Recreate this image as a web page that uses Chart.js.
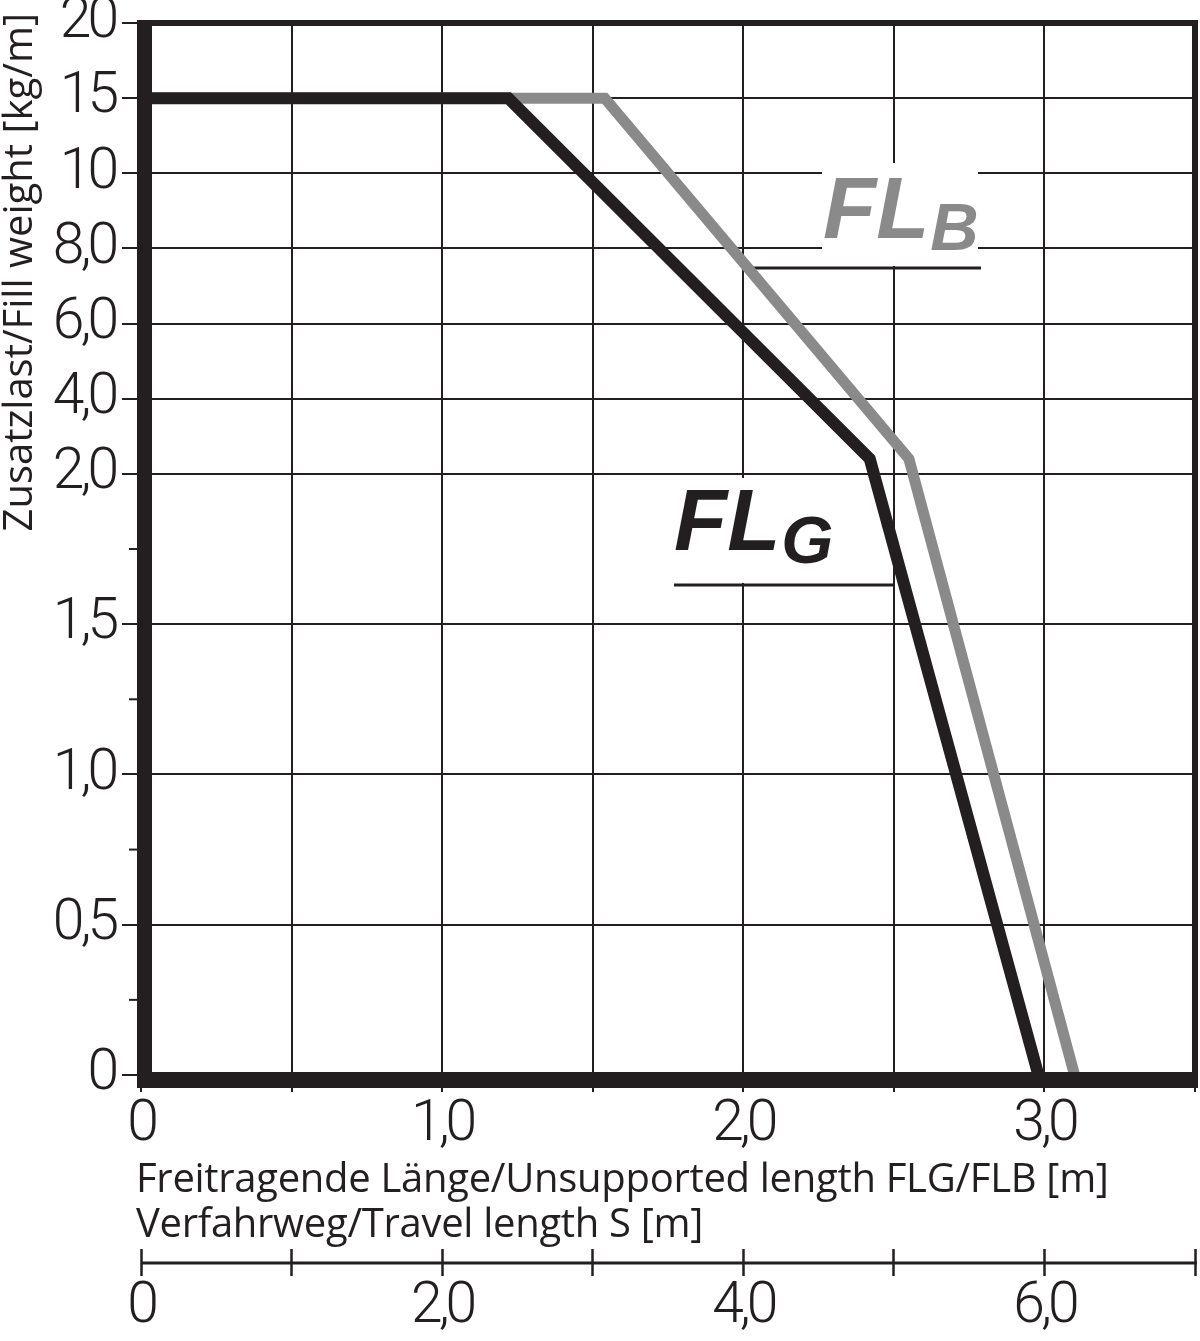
<!DOCTYPE html>
<html><head><meta charset="utf-8">
<script src="https://cdn.jsdelivr.net/npm/chart.js@4/dist/chart.umd.min.js"></script>
<style>html,body{margin:0;padding:0;background:#fff;} canvas{display:block;}</style>
</head><body>
<canvas id="c" width="1200" height="1341"></canvas>
<script>
// ---- data ----
const FLG_X = [0, 1.22, 2.42, 2.98];
const FLG_Y = [15, 15, 2.4, 0];
const FLB_X = [0, 1.54, 2.55, 3.10];
const FLB_Y = [15, 15, 2.4, 0];

const Y_TICKS  = [0, 0.5, 1.0, 1.5, 2.0, 4.0, 6.0, 8.0, 10, 15, 20];
const Y_LABELS = ["0", "0,5", "1,0", "1,5", "2,0", "4,0", "6,0", "8,0", "10", "15", "20"];
const Y_STEPS  = [0, 2, 4, 6, 8, 9, 10, 11, 12, 13, 14];   // relative axis spacing of each tick
const Y_MINOR  = [0.25, 0.75, 1.25, 1.75];
const X_TICKS  = [0, 0.5, 1, 1.5, 2, 2.5, 3, 3.5];
const X_LABELS = ["0", "", "1,0", "", "2,0", "", "3,0", ""];
const S_TICKS  = [0, 1, 2, 3, 4, 5, 6, 7];
const S_LABELS = ["0", "", "2,0", "", "4,0", "", "6,0", ""];
const X_TITLE = ["Freitragende Länge/Unsupported length FLG/FLB [m]", "Verfahrweg/Travel length S [m]"];
const Y_TITLE = "Zusatzlast/Fill weight [kg/m]";

const DARK = '#231f20';
const GRAY = '#8a8a8a';
const TICK_FONT = "Roboto, 'Liberation Sans', sans-serif";
const TITLE_FONT = "'Open Sans', 'Noto Sans', sans-serif";

// ---- piecewise y scale ----
const STEP_MAX = Y_STEPS[Y_STEPS.length - 1];
function toFrac(v) {
  for (let i = 0; i < Y_TICKS.length - 1; i++) {
    if (v <= Y_TICKS[i + 1] || i === Y_TICKS.length - 2) {
      const t = (v - Y_TICKS[i]) / (Y_TICKS[i + 1] - Y_TICKS[i]);
      return (Y_STEPS[i] + t * (Y_STEPS[i + 1] - Y_STEPS[i])) / STEP_MAX;
    }
  }
  return 0;
}
function fromFrac(f) {
  const p = f * STEP_MAX;
  for (let i = 0; i < Y_STEPS.length - 1; i++) {
    if (p <= Y_STEPS[i + 1] || i === Y_STEPS.length - 2) {
      const t = (p - Y_STEPS[i]) / (Y_STEPS[i + 1] - Y_STEPS[i]);
      return Y_TICKS[i] + t * (Y_TICKS[i + 1] - Y_TICKS[i]);
    }
  }
  return 0;
}
const Linear = Chart.LinearScale || Chart.registry.getScale('linear');
class PiecewiseScale extends Linear {
  buildTicks() { return Y_TICKS.map(v => ({ value: v })); }
  getPixelForValue(value) { return this.getPixelForDecimal(toFrac(value)); }
  getValueForPixel(pixel) { return fromFrac(this.getDecimalForPixel(pixel)); }
}
PiecewiseScale.id = 'piecewise';
PiecewiseScale.defaults = Linear.defaults;
Chart.register(PiecewiseScale);

function pts(xs, ys) { return xs.map((x, i) => ({ x: x, y: ys[i] })); }

// ---- decorations ----
const decor = {
  id: 'decor',
  beforeDraw(chart) {
    chart.ctx.letterSpacing = '-4px';   // tight tracking of tick numerals
  },
  beforeDatasetsDraw(chart) {
    const ctx = chart.ctx;
    ctx.save();
    ctx.letterSpacing = '0px';
    // white label boxes
    ctx.fillStyle = '#fff';
    ctx.fillRect(822, 163, 156, 103);
    ctx.fillRect(668, 478, 167, 105);
    ctx.textBaseline = 'alphabetic';
    ctx.textAlign = 'left';
    // FL_B
    ctx.fillStyle = GRAY;
    ctx.font = "italic bold 87px 'Liberation Sans', Arial, sans-serif";
    ctx.fillText('FL', 823, 238);
    let w = ctx.measureText('FL').width;
    ctx.font = "italic bold 67px 'Liberation Sans', Arial, sans-serif";
    ctx.fillText('B', 823 + w + 1, 250);
    // FL_G
    ctx.fillStyle = DARK;
    ctx.font = "italic bold 87px 'Liberation Sans', Arial, sans-serif";
    ctx.fillText('FL', 674, 550);
    w = ctx.measureText('FL').width;
    ctx.font = "italic bold 67px 'Liberation Sans', Arial, sans-serif";
    ctx.fillText('G', 674 + w + 1, 563);
    // underlines
    ctx.fillStyle = DARK;
    ctx.fillRect(750, 266.5, 231, 3);
    ctx.fillRect(674, 583.5, 221, 3);
    ctx.restore();
  },
  afterDatasetsDraw(chart) {
    const ctx = chart.ctx;
    const a = chart.chartArea;
    const ys = chart.scales.y;
    ctx.save();
    ctx.fillStyle = DARK;
    // frame
    ctx.fillRect(a.left - 4, a.top - 3, 15, a.bottom - a.top + 16);
    ctx.fillRect(a.left - 4, a.bottom - 3, a.right - a.left + 7, 16);
    ctx.fillRect(a.left - 4, a.top - 3, a.right - a.left + 7, 6);
    ctx.fillRect(a.right - 3, a.top - 3, 6, a.bottom - a.top + 6);
    // minor y ticks
    ctx.strokeStyle = DARK;
    ctx.lineWidth = 2;
    Y_MINOR.forEach(v => {
      const y = ys.getPixelForValue(v);
      ctx.beginPath();
      ctx.moveTo(a.left - 12, y);
      ctx.lineTo(a.left, y);
      ctx.stroke();
    });
    // travel-length axis line
    const s = chart.scales.x2;
    ctx.lineWidth = 3;
    ctx.beginPath();
    ctx.moveTo(s.left, s.top + 14);
    ctx.lineTo(s.right + 2, s.top + 14);
    ctx.stroke();
    ctx.restore();
  },
  afterDraw(chart) {
    // axis titles
    const ctx = chart.ctx;
    const a = chart.chartArea;
    ctx.save();
    ctx.letterSpacing = '-0.3px';
    ctx.fillStyle = DARK;
    ctx.font = "40px " + TITLE_FONT;
    ctx.textBaseline = 'alphabetic';
    ctx.textAlign = 'left';
    ctx.fillText(X_TITLE[0], a.left - 5, a.bottom + 117);
    ctx.fillText(X_TITLE[1], a.left - 5, a.bottom + 162);
    ctx.letterSpacing = '0px';
    ctx.translate(32, a.top - 10);
    ctx.rotate(-Math.PI / 2);
    ctx.textAlign = 'right';
    ctx.fillText(Y_TITLE, 0, 0);
    ctx.restore();
  }
};

new Chart(document.getElementById('c'), {
  type: 'line',
  data: {
    datasets: [
      { label: 'FLG', data: pts(FLG_X, FLG_Y), borderColor: DARK, borderWidth: 12,
        pointRadius: 0, borderJoinStyle: 'miter', tension: 0, fill: false },
      { label: 'FLB', data: pts(FLB_X, FLB_Y), borderColor: GRAY, borderWidth: 11,
        pointRadius: 0, borderJoinStyle: 'miter', tension: 0, fill: false }
    ]
  },
  options: {
    responsive: false,
    animation: false,
    devicePixelRatio: 1,
    layout: { padding: { top: 23, right: 5, left: 0, bottom: 0 } },
    plugins: { legend: { display: false }, tooltip: { enabled: false } },
    scales: {
      x: {
        type: 'linear', position: 'bottom', min: 0, max: 3.5, weight: 0,
        afterBuildTicks: s => { s.ticks = X_TICKS.map(v => ({ value: v })); },
        afterFit: s => { s.height = 174; s.paddingLeft = 0; s.paddingRight = 0; },
        border: { display: false },
        grid: { color: DARK, lineWidth: 2, tickColor: DARK, tickWidth: 2, tickLength: 17 },
        ticks: {
          autoSkip: false, maxRotation: 0, padding: 0, color: DARK,
          font: { family: TICK_FONT, size: 57, weight: '300' },
          callback: (v, i) => X_LABELS[i]
        }
      },
      x2: {
        type: 'linear', position: 'bottom', min: 0, max: 7, weight: 1,
        afterBuildTicks: s => { s.ticks = S_TICKS.map(v => ({ value: v })); },
        afterFit: s => { s.height = 92; s.paddingLeft = 0; s.paddingRight = 0; },
        border: { display: false },
        grid: { drawOnChartArea: false, tickColor: DARK, tickWidth: 2.5, tickLength: 27 },
        ticks: {
          autoSkip: false, maxRotation: 0, padding: -2, color: DARK,
          font: { family: TICK_FONT, size: 57, weight: '300' },
          callback: (v, i) => S_LABELS[i]
        }
      },
      y: {
        type: 'piecewise', position: 'left', min: 0, max: 20,
        afterFit: s => { s.width = 141; s.paddingTop = 0; s.paddingBottom = 0; },
        border: { display: false },
        grid: { color: DARK, lineWidth: 2, tickColor: DARK, tickWidth: 2, tickLength: 19 },
        ticks: {
          autoSkip: false, padding: 7, color: DARK,
          font: { family: TICK_FONT, size: 57, weight: '300' },
          callback: (v, i) => Y_LABELS[Y_TICKS.indexOf(v)]
        }
      }
    }
  },
  plugins: [decor]
});
</script>
</body></html>
